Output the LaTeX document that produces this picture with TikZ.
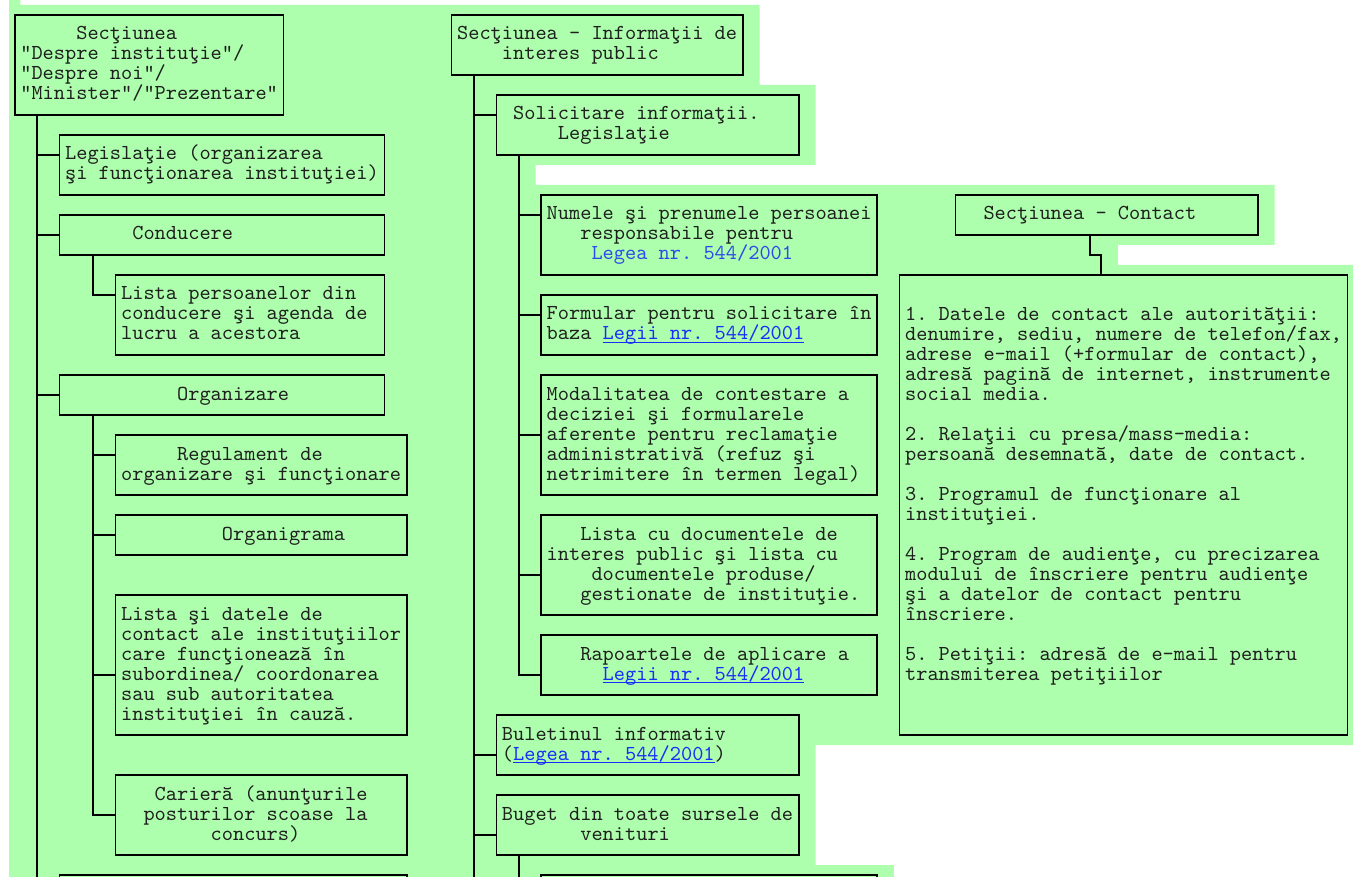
\documentclass[tikz,border=0pt]{standalone}
\usepackage{fontspec}
\newfontfamily\courfont{lmmono10-regular}[Extension=.otf]
\usetikzlibrary{calc}
\definecolor{bggreen}{RGB}{173,255,173}
\definecolor{linkblue}{RGB}{25,45,250}
\definecolor{plainblue}{RGB}{45,75,235}
\definecolor{inkgray}{RGB}{30,32,30}
\newlength\cw \setlength\cw{8.4pt}
\newcommand\indc[1]{\hskip#1\cw\relax}
\newcommand\trow[1]{\hbox to\hsize{\vrule height 11.25pt depth 3.75pt width 0pt#1\hss}}
\newcommand\boxtxt[2]{\vbox{\hsize=#1\cw\offinterlineskip#2}}
\newcommand\lnk[1]{{\color{linkblue}\setbox0\hbox{#1}\rlap{\rule[-2.4pt]{\wd0}{0.75pt}}\box0}}

\begin{document}
\begin{tikzpicture}[x=8.4pt, y=-15pt,
    every node/.style={font=\courfont\fontsize{16}{15}\selectfont\frenchspacing, text=inkgray},
    box/.style={draw=black, line width=1.2pt, anchor=north west, inner xsep=4.2pt, inner ysep=7.5pt, outer sep=0pt},
    conn/.style={draw=black, line width=1.2pt}]
\useasboundingbox (-1.313,-0.75) rectangle (119.491,43.1);
\fill[bggreen] (-0.5,-0.75) -- (0.5,-0.75) -- (0.5,-0.5) -- (66.5,-0.5) -- (66.5,3.5) -- (71.5,3.5) -- (71.5,7.5)
    -- (46.5,7.5) -- (46.5,8.5) -- (112.5,8.5) -- (112.5,11.5) -- (98.5,11.5) -- (98.5,12.5) -- (119.6,12.5)
    -- (119.6,36.5) -- (71.5,36.5) -- (71.5,42.5) -- (78.5,42.5) -- (78.5,43.2) -- (-0.5,43.2) -- cycle;

\node[box] (A) at (0,0) {\boxtxt{23}{
    \trow{\indc{5}Secţiunea}
    \trow{"Despre instituţie"/}
    \trow{"Despre noi"/}
    \trow{"Minister"/"Prezentare"}}};
\node[box] (leg) at (4,6) {\boxtxt{28}{
    \trow{Legislaţie (organizarea}
    \trow{şi funcţionarea instituţiei)}}};
\node[box] (cond) at (4,10) {\boxtxt{28}{\trow{\indc{6}Conducere}}};
\node[box] (lpers) at (9,13) {\boxtxt{23}{
    \trow{Lista persoanelor din}
    \trow{conducere şi agenda de}
    \trow{lucru a acestora}}};
\node[box] (org) at (4,18) {\boxtxt{28}{\trow{\indc{10}Organizare}}};
\node[box] (reg) at (9,21) {\boxtxt{25}{
    \trow{\indc{5}Regulament de}
    \trow{organizare şi funcţionare}}};
\node[box] (orgr) at (9,25) {\boxtxt{25}{\trow{\indc{9}Organigrama}}};
\node[box] (lsi) at (9,29) {\boxtxt{25}{
    \trow{Lista şi datele de}
    \trow{contact ale instituţiilor}
    \trow{care funcţionează în}
    \trow{subordinea/ coordonarea}
    \trow{sau sub autoritatea}
    \trow{instituţiei în cauză.}}};
\node[box] (car) at (9,38) {\boxtxt{25}{
    \trow{\indc{3}Carieră (anunţurile}
    \trow{\indc{2}posturilor scoase la}
    \trow{\indc{8}concurs)}}};
\node[box, minimum width=31*8.4pt, minimum height=45pt] (botl) at (4,43) {};

\node[box] (info) at (39,0) {\boxtxt{25}{
    \trow{Secţiunea - Informaţii de}
    \trow{\indc{4}interes public}}};
\node[box] (sol) at (43,4) {\boxtxt{26}{
    \trow{\indc{1}Solicitare informaţii.}
    \trow{\indc{5}Legislaţie}}};
\node[box] (num) at (47,9) {\boxtxt{29}{
    \trow{Numele şi prenumele persoanei}
    \trow{\indc{3}responsabile pentru}
    \trow{\indc{4}\textcolor{plainblue}{Legea nr. 544/2001}}}};
\node[box] (form) at (47,14) {\boxtxt{29}{
    \trow{Formular pentru solicitare în}
    \trow{baza \lnk{Legii nr. 544/2001}}}};
\node[box] (mod) at (47,18) {\boxtxt{29}{
    \trow{Modalitatea de contestare a}
    \trow{deciziei şi formularele}
    \trow{aferente pentru reclamaţie}
    \trow{administrativă (refuz şi}
    \trow{netrimitere în termen legal)}}};
\node[box] (lcu) at (47,25) {\boxtxt{29}{
    \trow{\indc{3}Lista cu documentele de}
    \trow{interes public şi lista cu}
    \trow{\indc{4}documentele produse/}
    \trow{\indc{3}gestionate de instituţie.}}};
\node[box] (rap) at (47,31) {\boxtxt{29}{
    \trow{\indc{3}Rapoartele de aplicare a}
    \trow{\indc{5}\lnk{Legii nr. 544/2001}}}};
\node[box] (bul) at (43,35) {\boxtxt{26}{
    \trow{Buletinul informativ}
    \trow{(\lnk{Legea nr. 544/2001})}}};
\node[box] (bug) at (43,39) {\boxtxt{26}{
    \trow{Buget din toate sursele de}
    \trow{\indc{7}venituri}}};
\node[box, minimum width=30*8.4pt, minimum height=45pt] (botm) at (47,43) {};

\node[box] (ct) at (84,9) {\boxtxt{26}{\trow{\indc{2}Secţiunea - Contact}}};
\node[box] (body) at (79,13) {\boxtxt{39}{
    \trow{}
    \trow{1. Datele de contact ale autorităţii:}
    \trow{denumire, sediu, numere de telefon/fax,}
    \trow{adrese e-mail (+formular de contact),}
    \trow{adresă pagină de internet, instrumente}
    \trow{social media.}
    \trow{}
    \trow{2. Relaţii cu presa/mass-media:}
    \trow{persoană desemnată, date de contact.}
    \trow{}
    \trow{3. Programul de funcţionare al}
    \trow{instituţiei.}
    \trow{}
    \trow{4. Program de audienţe, cu precizarea}
    \trow{modului de înscriere pentru audienţe}
    \trow{şi a datelor de contact pentru}
    \trow{înscriere.}
    \trow{}
    \trow{5. Petiţii: adresă de e-mail pentru}
    \trow{transmiterea petiţiilor}
    \trow{}
    \trow{}}};

\draw[conn] ($(A.south west)+(2,0)$) |- ($(leg.north west)+(0,1)$);
\draw[conn] ($(A.south west)+(2,0)$) |- ($(cond.north west)+(0,1)$);
\draw[conn] ($(A.south west)+(2,0)$) |- ($(org.north west)+(0,1)$);
\draw[conn] ($(A.south west)+(2,0)$) |- ($(botl.north west)+(0,1)$);
\draw[conn] ($(cond.south west)+(3,0)$) |- ($(lpers.north west)+(0,1)$);
\draw[conn] ($(org.south west)+(3,0)$) |- ($(reg.north west)+(0,1)$);
\draw[conn] ($(org.south west)+(3,0)$) |- ($(orgr.north west)+(0,1)$);
\draw[conn] ($(org.south west)+(3,0)$) |- ($(lsi.north west)+(0,4)$);
\draw[conn] ($(org.south west)+(3,0)$) |- ($(car.north west)+(0,2)$);

\draw[conn] ($(info.south west)+(2,0)$) -- ++(0,42);
\draw[conn] ($(info.south west)+(2,0)$) |- ($(sol.north west)+(0,1)$);
\draw[conn] ($(info.south west)+(2,0)$) |- ($(bul.north west)+(0,2)$);
\draw[conn] ($(info.south west)+(2,0)$) |- ($(bug.north west)+(0,2)$);
\draw[conn] ($(sol.south west)+(2,0)$) |- ($(num.north west)+(0,1)$);
\draw[conn] ($(sol.south west)+(2,0)$) |- ($(form.north west)+(0,1)$);
\draw[conn] ($(sol.south west)+(2,0)$) |- ($(mod.north west)+(0,3)$);
\draw[conn] ($(sol.south west)+(2,0)$) |- ($(lcu.north west)+(0,3)$);
\draw[conn] ($(sol.south west)+(2,0)$) |- ($(rap.north west)+(0,2)$);
\draw[conn] ($(bug.south west)+(2,0)$) |- ($(botm.north west)+(0,1)$);

\draw[conn] ($(ct.south west)+(12,0)$) -- ++(0,1) -| ($(body.north west)+(18,0)$);
\end{tikzpicture}
\end{document}
